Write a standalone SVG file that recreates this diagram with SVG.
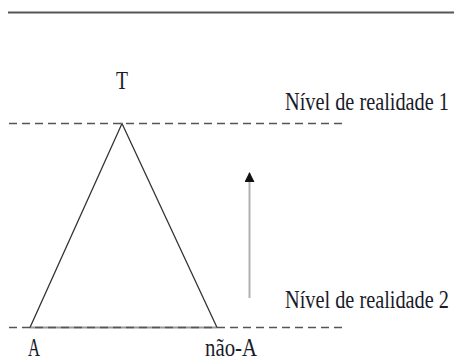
<svg xmlns="http://www.w3.org/2000/svg" width="454" height="362" viewBox="0 0 454 362">
<style>
text{font-family:"Liberation Serif","DejaVu Serif",serif;fill:#1a1a2a;font-size:25px}
.dash{stroke:#555;stroke-width:1.5;stroke-dasharray:8 5;fill:none}
.tri{stroke:#333;stroke-width:1.3;fill:none}
</style>
<defs>
<marker id="ah" viewBox="0 0 10 10" refX="9" refY="5" markerWidth="5" markerHeight="5" orient="auto" markerUnits="strokeWidth">
<path d="M0,0 L10,5 L0,10 Z" fill="#111"/>
</marker>
</defs>
<line x1="8" y1="12.5" x2="454" y2="12.5" stroke="#555" stroke-width="2"/>
<g id="connectors">
<line class="dash" x1="9" y1="123.5" x2="345" y2="123.5"/>
<line x1="30" y1="327.5" x2="217" y2="327.5" stroke="#999" stroke-width="2"/>
<line class="dash" x1="9" y1="327.5" x2="345" y2="327.5"/>
<line x1="249.5" y1="298" x2="249.5" y2="173" stroke="#b0b0b0" stroke-width="2" marker-end="url(#ah)"/>
</g>
<g id="triangle">
<polyline class="tri" points="30,327.5 122,123.5 217,327.5"/>
</g>
<g id="node-T"><text transform="translate(116,89) scale(0.8,1)" textLength="15" lengthAdjust="spacingAndGlyphs">T</text></g>
<g id="node-nivel1"><text transform="translate(285,110) scale(0.8,1)" textLength="205" lengthAdjust="spacingAndGlyphs">Nível de realidade 1</text></g>
<g id="node-nivel2"><text transform="translate(285,308) scale(0.8,1)" textLength="205" lengthAdjust="spacingAndGlyphs">Nível de realidade 2</text></g>
<g id="node-A"><text transform="translate(28,356) scale(0.8,1)" textLength="15" lengthAdjust="spacingAndGlyphs">A</text></g>
<g id="node-naoA"><text transform="translate(205,356) scale(0.8,1)" textLength="65" lengthAdjust="spacingAndGlyphs">não-A</text></g>
</svg>
